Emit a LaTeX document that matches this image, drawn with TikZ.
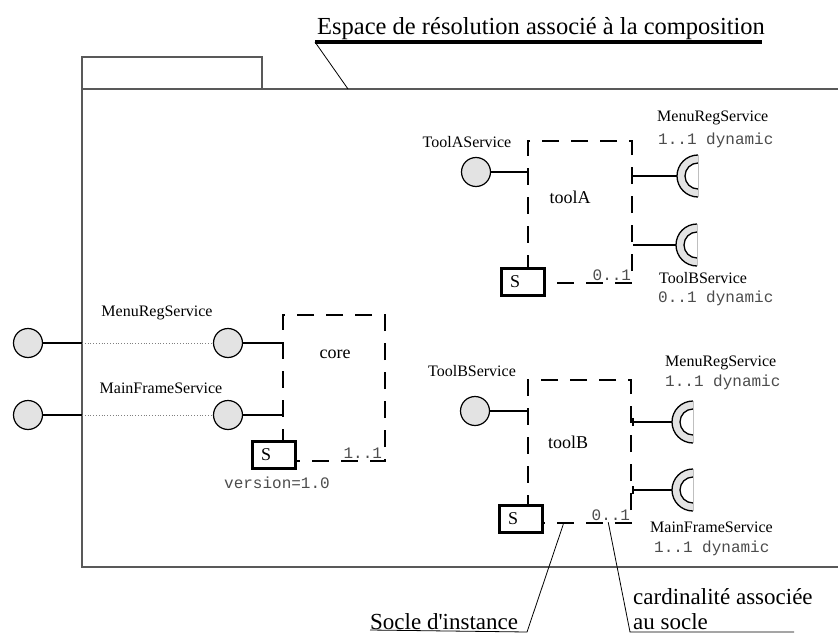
\documentclass[tikz,border=0pt]{standalone}
\usepackage{fontspec}
\setmainfont{Liberation Serif}
\setmonofont{Liberation Mono}
\usetikzlibrary{positioning}
\usetikzlibrary{arrows.meta}
\tikzset{
    prov/.style = {circle, draw=black, line width=1.2pt, fill=gray!22, minimum size=29pt, inner sep=0pt},
    comp/.style = {rectangle, draw=black, line width=2.5pt, dash pattern=on 17pt off 12pt},
    socle/.style = {rectangle, draw=black, line width=3.6pt, fill=white, minimum width=43pt, minimum height=27pt, text width=26pt, inner xsep=0pt, align=left, font=\fontsize{18}{18}\selectfont},
    svc/.style = {inner sep=0pt, font=\fontsize{16}{18}\selectfont},
    compname/.style = {inner sep=0pt, font=\fontsize{18}{20}\selectfont},
    card/.style = {inner sep=0pt, text=black!70, font=\ttfamily\fontsize{16}{18}\selectfont},
    note/.style = {inner sep=0pt, align=left, font=\fontsize{23}{25}\selectfont},
    edgen/.style = {line width=1.8pt},
    edgebar/.style = {line width=1.8pt, {Bar[width=8pt,line width=1.5pt]}-},
    edged/.style = {line width=0.8pt, gray, dotted},
    frame/.style = {line width=1.6pt, gray!70!black},
    lead/.style = {line width=0.8pt},
    recep/.pic = {
        \fill[gray!22] (21,-21) arc[start angle=270,end angle=90,radius=21] -- (21,13) arc[start angle=90,end angle=270,radius=13] -- cycle;
        \draw[line width=1.3pt] (21,-21) arc[start angle=270,end angle=90,radius=21];
        \draw[line width=1.3pt] (21,-13) arc[start angle=270,end angle=90,radius=13];
        \draw[gray!50, line width=0.6pt] (21,-21) -- (21,21);
    }
}

\begin{document}
\begin{tikzpicture}[x=1pt,y=-1pt]
\useasboundingbox (0,0) rectangle (838,642);
% espace de resolution
\coordinate (ftl) at (82,89);
\coordinate (fbl) at (82,567);
\draw[frame] (838,89) -- (ftl) -- (fbl) -- (838,567);
\draw[frame] (ftl) rectangle (262,57);
\node[note, anchor=south west, font=\fontsize{24.5}{26}\selectfont] at (317,40) (titre) {Espace de résolution associé à la composition};
\coordinate (tfr) at (348,89);
\draw[line width=3.5pt] (315,42) -- (762,42);
\draw[lead] (315,42) -- (tfr);
%
% core
\node[comp, minimum width=102pt, minimum height=146pt] at (334,388) (core) {};
\node[compname] at (335,354) (corename) {core};
\node[prov] at (28,343) (mro) {};
\node[prov] at (28,415) (mfo) {};
\node[prov] at (228,343) (mrc) {};
\node[prov] at (228,415) (mfc) {};
\coordinate (mrf) at (ftl |- mro);
\coordinate (mff) at (ftl |- mfo);
\node[svc] at (157,313) (mrcl) {MenuRegService};
\node[svc] at (161,388) (mfcl) {MainFrameService};
\draw[edgen] (mro) -- (mrf);
\draw[edgen] (mfo) -- (mff);
\draw[edged] (mrf) -- (mrc);
\draw[edged] (mff) -- (mfc);
\draw[edgen] (mrc) -- (mrc -| core.west);
\draw[edgen] (mfc) -- (mfc -| core.west);
\node[socle] at (274,455) (sc) {S};
\node[card, anchor=south east] at ([xshift=-4pt,yshift=3.5pt]core.south east) (cc) {1..1};
\node[card] at (277,483) (scv) {version=1.0};
%
% toolA
\node[comp, minimum width=104pt, minimum height=142pt] at (580,212) (toolA) {};
\node[compname] at (570,197) (toolAname) {toolA};
\node[prov] at (476,172) (tas) {};
\node[svc] at (467,142) (tasl) {ToolAService};
\draw[edgen] (tas) -- (tas -| toolA.west);
\node[socle] at (523,282) (sA) {S};
\node[card, anchor=south east] at ([xshift=-2pt,yshift=3.5pt]toolA.south east) (cA) {0..1};
\coordinate (rA1) at (677,176);
\coordinate (rA2) at (676,245);
\pic at (rA1) {recep};
\pic at (rA2) {recep};
\draw[edgen] (rA1 -| toolA.east) -- (rA1);
\draw[edgen] (rA2 -| toolA.east) -- (rA2);
\node[svc, anchor=west] at (657,118) (mrAl) {MenuRegService};
\node[card, anchor=west] at (658,140) (mrAc) {1..1 dynamic};
\node[svc, anchor=west] at (659,278) (tbAl) {ToolBService};
\node[card, anchor=west] at (658,298) (tbAc) {0..1 dynamic};
%
% toolB
\node[comp, minimum width=103pt, minimum height=143pt] at (579.5,451.5) (toolB) {};
\node[compname] at (568,442) (toolBname) {toolB};
\node[prov] at (475,411) (tbs) {};
\node[svc] at (472,371) (tbsl) {ToolBService};
\draw[edgen] (tbs) -- (tbs -| toolB.west);
\node[socle] at (521,519) (sB) {S};
\node[card, anchor=south east] at ([xshift=-2pt,yshift=3.5pt]toolB.south east) (cB) {0..1};
\coordinate (rB1) at (672,422);
\coordinate (rB2) at (672,490);
\pic at (rB1) {recep};
\pic at (rB2) {recep};
\draw[edgebar] (rB1 -| toolB.east) -- (rB1);
\draw[edgebar] (rB2 -| toolB.east) -- (rB2);
\node[svc, anchor=west] at (665,363) (mrBl) {MenuRegService};
\node[card, anchor=west] at (665,382) (mrBc) {1..1 dynamic};
\node[svc, anchor=west] at (650,527) (mfBl) {MainFrameService};
\node[card, anchor=west] at (654,548) (mfBc) {1..1 dynamic};
%
% legendes
\node[note, anchor=south west] at (370,630) (socl) {Socle d\textquotesingle instance};
\coordinate (tBs) at ([xshift=19pt]sB.east |- toolB.south);
\draw[lead] (socl.south west) -- (527,632) -- (tBs);
\node[note, anchor=south west] at (633,630) (cardl) {cardinalité associée\\au socle};
\coordinate (tBc) at ([xshift=-24pt,yshift=2pt]toolB.south east);
\draw[lead] (tBc) -- (630,632) -- (794,632);
\end{tikzpicture}
\end{document}
